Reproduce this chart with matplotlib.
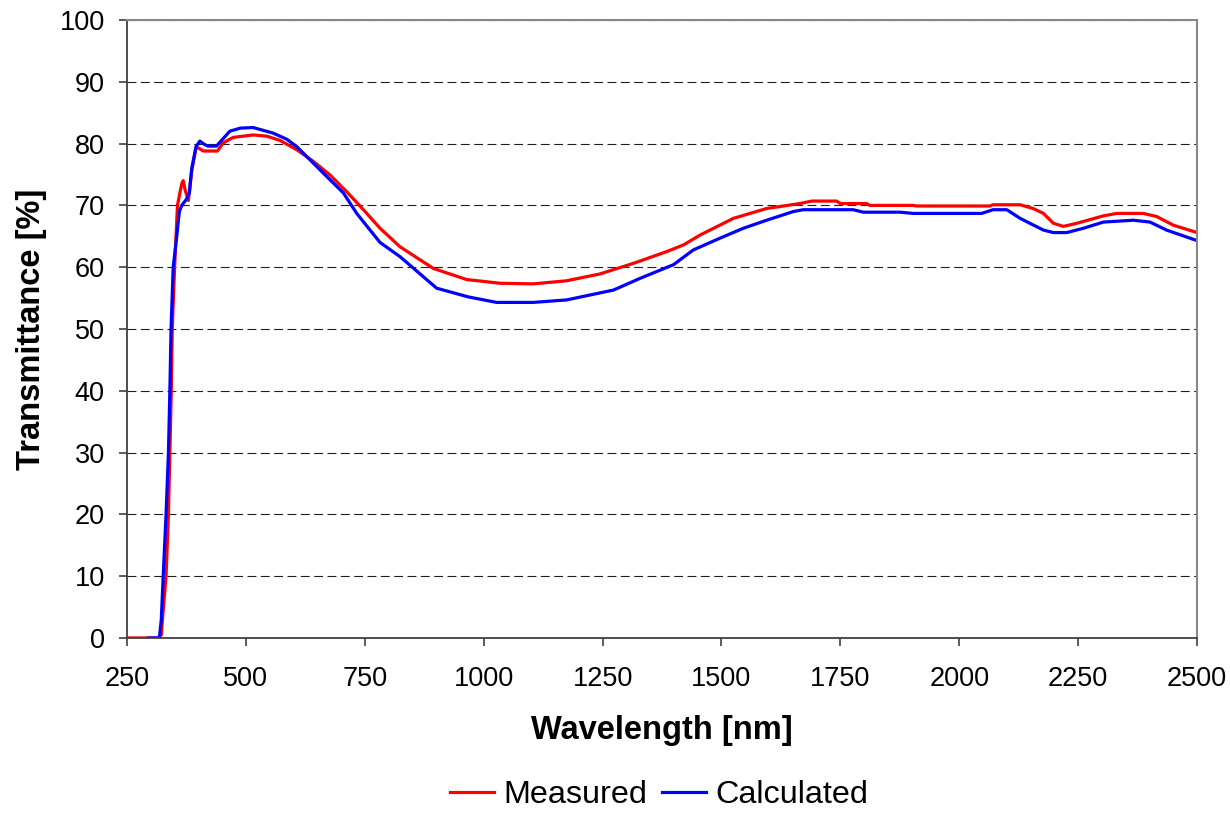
import matplotlib.pyplot as plt

plt.rcParams['font.family'] = ['Liberation Sans', 'DejaVu Sans']

# measured spectrum
wl_meas = [250, 315, 322, 326, 332, 337, 340, 343, 345, 350, 356, 361, 365, 368, 372,
           379, 386, 395, 400, 410, 440, 452, 473, 515, 544, 572, 607, 642, 677, 712,
           747, 782, 824, 894, 964, 1034, 1104, 1174, 1244, 1314, 1384, 1420, 1455,
           1525, 1595, 1665, 1690, 1742, 1750, 1805, 1812, 1903, 1910, 2064, 2071,
           2128, 2155, 2177, 2198, 2219, 2247, 2275, 2303, 2331, 2387, 2415, 2450, 2500]
t_meas = [0, 0, 0.5, 4.5, 10, 20, 30, 40, 50, 60, 70, 72, 73.5, 74, 72.5,
          70.8, 75.6, 79.3, 79.3, 78.8, 78.8, 80.1, 81, 81.4, 81.2, 80.5, 79.0, 77.1, 74.9, 72.2,
          69.3, 66.3, 63.3, 59.8, 58.0, 57.4, 57.3, 57.8, 58.9, 60.6, 62.5, 63.6, 65.2,
          67.9, 69.5, 70.3, 70.7, 70.7, 70.3, 70.3, 70.0, 70.0, 69.9, 69.9, 70.1,
          70.1, 69.5, 68.7, 67.1, 66.6, 67.1, 67.7, 68.3, 68.7, 68.7, 68.2, 66.8, 65.6]

# calculated spectrum
wl_calc = [295, 318, 322, 326, 332, 337, 340, 342.5, 347, 354.5, 360, 365, 375, 381, 386,
           395, 403, 412, 420, 438, 466, 488, 515, 557, 586, 607, 663, 705, 733, 761,
           782, 824, 901, 967, 1027, 1104, 1174, 1273, 1329, 1399, 1441, 1497, 1546,
           1595, 1651, 1672, 1777, 1798, 1875, 1903, 2047, 2071, 2100, 2128, 2177,
           2198, 2226, 2261, 2303, 2366, 2401, 2436, 2500]
t_calc = [0, 0, 3, 10, 20, 30, 40, 50, 60, 65, 69, 70, 71, 72, 76,
          79.5, 80.4, 79.9, 79.6, 79.6, 82, 82.5, 82.6, 81.7, 80.7, 79.5, 75.2, 72.0, 68.7, 66.0,
          64.0, 61.7, 56.6, 55.2, 54.3, 54.3, 54.7, 56.3, 58.2, 60.4, 62.8, 64.7, 66.3,
          67.6, 69.0, 69.3, 69.3, 68.9, 68.9, 68.7, 68.7, 69.3, 69.3, 67.9, 66.0,
          65.6, 65.6, 66.3, 67.3, 67.6, 67.3, 66.0, 64.3]

fig = plt.figure(figsize=(12.3, 8.13), dpi=100)
ax = fig.add_axes([0.1033, 0.2153, 0.8699, 0.7601])

ax.plot(wl_meas, t_meas, color='#ff0000', lw=2.3, label='Measured')
ax.plot(wl_calc, t_calc, color='#0000ff', lw=2.3, label='Calculated')

ax.set_xlim(250, 2500)
ax.set_ylim(0, 100)
ax.set_xticks(range(250, 2501, 250))
ax.set_yticks(range(0, 101, 10))
ax.grid(axis='y', color='#202020', linestyle=(0, (8, 4)), lw=0.8)
ax.set_axisbelow(True)

for s in ['left', 'bottom']:
    ax.spines[s].set_color('#404040')
    ax.spines[s].set_linewidth(1.3)
for s in ['top', 'right']:
    ax.spines[s].set_color('#888888')
    ax.spines[s].set_linewidth(1.5)

ax.tick_params(axis='both', labelsize=19.5, direction='out', length=6, width=1.2,
               color='#404040')
ax.tick_params(axis='x', pad=14)
ax.tick_params(axis='y', pad=10)
ax.set_xlabel('Wavelength [nm]', fontsize=23.5, fontweight='bold', labelpad=17)
ax.set_ylabel('Transmittance [%]', fontsize=23.5, fontweight='bold', labelpad=9)

fig.legend(loc='center', bbox_to_anchor=(0.536, 0.022), ncol=2, frameon=False,
           fontsize=23.3, handlelength=1.35, columnspacing=0.45, handletextpad=0.3,
           borderaxespad=0.0, borderpad=0.1)

fig.savefig('out.png', dpi=100)
